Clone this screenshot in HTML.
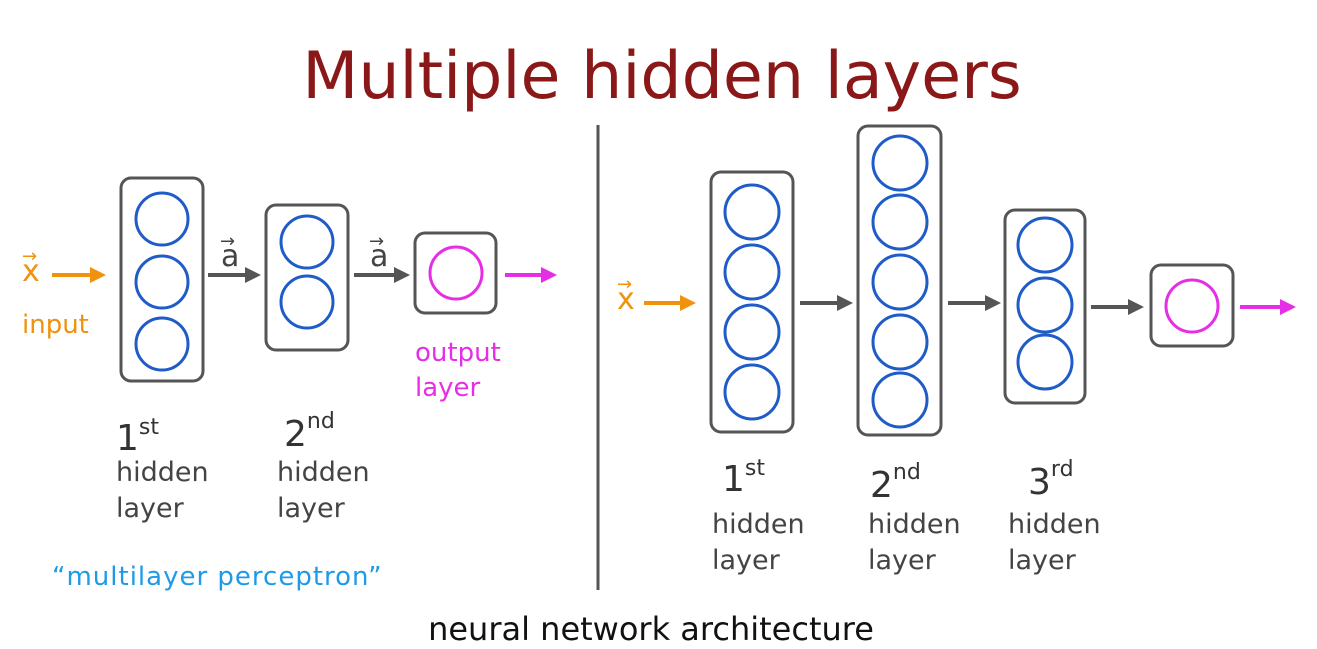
<!DOCTYPE html>
<html><head><meta charset="utf-8"><style>
html,body{margin:0;padding:0;background:#fff;}
svg{display:block;}
text{font-family:"DejaVu Sans","Liberation Sans",sans-serif;}
</style></head><body>
<svg width="1317" height="649" viewBox="0 0 1317 649" xmlns="http://www.w3.org/2000/svg">
<defs>
<marker id="ag" markerWidth="4" markerHeight="4" refX="2.5" refY="2" orient="auto"><path d="M0,0 L4,2 L0,4 z" fill="#555"/></marker>
<marker id="ao" markerWidth="4" markerHeight="4" refX="2.5" refY="2" orient="auto"><path d="M0,0 L4,2 L0,4 z" fill="#f0920c"/></marker>
<marker id="am" markerWidth="4" markerHeight="4" refX="2.5" refY="2" orient="auto"><path d="M0,0 L4,2 L0,4 z" fill="#e62ee6"/></marker>
</defs>
<text x="662" y="98" font-size="65" fill="#8b1818" text-anchor="middle">Multiple hidden layers</text>

<g fill="none" stroke="#555" stroke-width="3">
<rect x="121" y="178" width="82" height="203" rx="10"/>
<rect x="266" y="205" width="82" height="145" rx="10"/>
<rect x="415" y="233" width="81" height="80" rx="10"/>
<rect x="711" y="172" width="82" height="260" rx="10"/>
<rect x="858" y="126" width="83" height="309" rx="10"/>
<rect x="1005" y="210" width="80" height="193" rx="10"/>
<rect x="1151" y="265" width="82" height="81" rx="10"/>
</g>
<line x1="598" y1="125" x2="598" y2="590" stroke="#555" stroke-width="3"/>

<g fill="none" stroke="#1f5cc8" stroke-width="3">
<circle cx="162" cy="219" r="26"/><circle cx="162" cy="282" r="26"/><circle cx="162" cy="344" r="26"/>
<circle cx="307" cy="242" r="26"/><circle cx="307" cy="302" r="26"/>
<circle cx="752" cy="212" r="27"/><circle cx="752" cy="272" r="27"/><circle cx="752" cy="332" r="27"/><circle cx="752" cy="392" r="27"/>
<circle cx="900" cy="163" r="27"/><circle cx="900" cy="222" r="27"/><circle cx="900" cy="282" r="27"/><circle cx="900" cy="342" r="27"/><circle cx="900" cy="400" r="27"/>
<circle cx="1045" cy="245" r="27"/><circle cx="1045" cy="305" r="27"/><circle cx="1045" cy="362" r="27"/>
</g>
<g fill="none" stroke="#e62ee6" stroke-width="3">
<circle cx="456" cy="273" r="26"/><circle cx="1192" cy="306" r="26"/>
</g>

<g stroke-width="4">
<line x1="52" y1="275" x2="100" y2="275" stroke="#f0920c" marker-end="url(#ao)"/>
<line x1="208" y1="275" x2="255" y2="275" stroke="#555" marker-end="url(#ag)"/>
<line x1="354" y1="275" x2="404" y2="275" stroke="#555" marker-end="url(#ag)"/>
<line x1="505" y1="275" x2="551" y2="275" stroke="#e62ee6" marker-end="url(#am)"/>
<line x1="644" y1="303" x2="690" y2="303" stroke="#f0920c" marker-end="url(#ao)"/>
<line x1="800" y1="303" x2="847" y2="303" stroke="#555" marker-end="url(#ag)"/>
<line x1="948" y1="303" x2="995" y2="303" stroke="#555" marker-end="url(#ag)"/>
<line x1="1091" y1="307" x2="1138" y2="307" stroke="#555" marker-end="url(#ag)"/>
<line x1="1240" y1="307" x2="1290" y2="307" stroke="#e62ee6" marker-end="url(#am)"/>
</g>

<g style="font-family:'Liberation Serif',serif" font-size="30">
<text x="22" y="281" fill="#f0920c">x</text><text x="22" y="262" fill="#f0920c" font-size="18">→</text>
<text x="617" y="309" fill="#f0920c">x</text><text x="617" y="290" fill="#f0920c" font-size="18">→</text>
<text x="221" y="266" fill="#444">a</text><text x="220" y="247" fill="#444" font-size="18">→</text>
<text x="370" y="266" fill="#444">a</text><text x="369" y="247" fill="#444" font-size="18">→</text>
</g>

<text x="22" y="333" font-size="26" fill="#f0920c">input</text>
<text x="415" y="361" font-size="26" fill="#e62ee6">output</text>
<text x="415" y="396" font-size="26" fill="#e62ee6">layer</text>

<g font-size="27" fill="#444">
<text x="116" y="481">hidden</text><text x="116" y="517">layer</text>
<text x="277" y="481">hidden</text><text x="277" y="517">layer</text>
<text x="712" y="533">hidden</text><text x="712" y="569">layer</text>
<text x="868" y="533">hidden</text><text x="868" y="569">layer</text>
<text x="1008" y="533">hidden</text><text x="1008" y="569">layer</text>
</g>
<g fill="#333" style="font-family:'Liberation Sans',sans-serif">
<text x="116" y="450" font-size="36">1<tspan font-size="22" dy="-16">st</tspan></text>
<text x="284" y="446" font-size="36">2<tspan font-size="22" dy="-18">nd</tspan></text>
<text x="722" y="491" font-size="36">1<tspan font-size="22" dy="-16">st</tspan></text>
<text x="870" y="497" font-size="36">2<tspan font-size="22" dy="-18">nd</tspan></text>
<text x="1028" y="494" font-size="36">3<tspan font-size="22" dy="-18">rd</tspan></text>
</g>

<text x="52" y="585" font-size="26" fill="#1e9be8" letter-spacing="1">“multilayer perceptron”</text>
<text x="651" y="640" font-size="32" fill="#111" text-anchor="middle">neural network architecture</text>
</svg>
</body></html>
